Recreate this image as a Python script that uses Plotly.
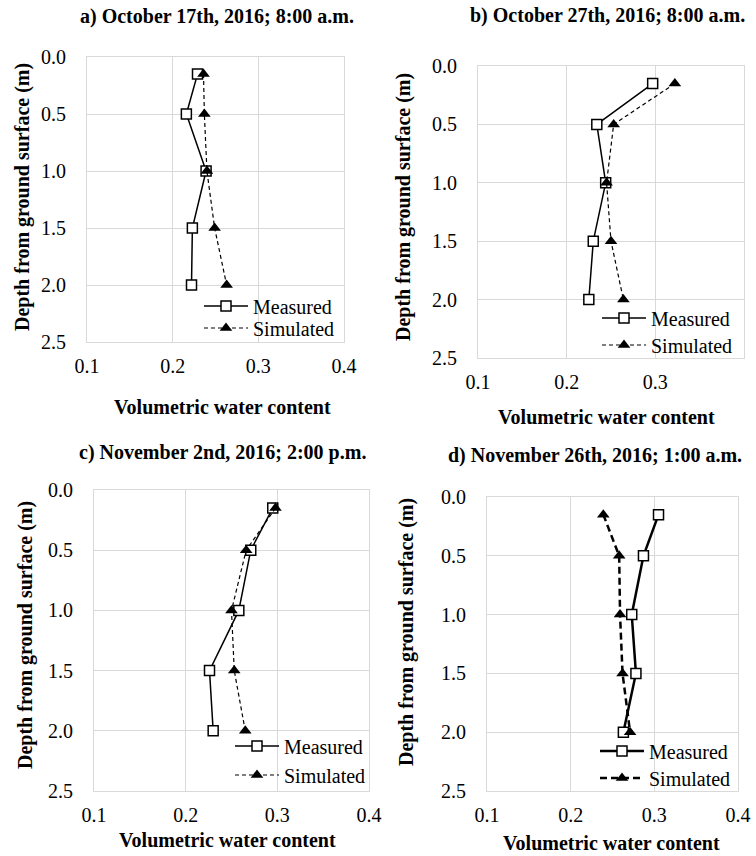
import plotly.graph_objects as go

# ---- data ----
depths = [0.15, 0.5, 1.0, 1.5, 2.0]
a_measured = [0.229, 0.216, 0.239, 0.223, 0.222]
a_simulated = [0.236, 0.237, 0.240, 0.249, 0.263]
b_measured = [0.297, 0.234, 0.244, 0.230, 0.225]
b_simulated = [0.322, 0.253, 0.245, 0.250, 0.264]
c_measured = [0.295, 0.271, 0.258, 0.226, 0.230]
c_simulated = [0.298, 0.266, 0.250, 0.253, 0.265]
d_measured = [0.305, 0.287, 0.273, 0.278, 0.263]
d_simulated = [0.239, 0.258, 0.259, 0.262, 0.271]

titles = ["a) October 17th, 2016; 8:00 a.m.",
          "b) October 27th, 2016; 8:00 a.m.",
          "c) November 2nd, 2016; 2:00 p.m.",
          "d) November 26th, 2016; 1:00 a.m."]
x_ticks = [0.1, 0.2, 0.3, 0.4]
y_ticks = [0.0, 0.5, 1.0, 1.5, 2.0, 2.5]
x_title = "Volumetric water content"
y_title = "Depth from ground surface (m)"

W, H = 756, 856
FONT = "Liberation Serif"

def px(x):
    return x / W

def py(y):
    return 1 - y / H

# panel geometry in pixels: (left, right, top, bottom)
boxes = [(87, 344, 57, 342), (478, 744, 66, 358), (94, 369, 490, 791), (487, 738, 497, 791)]
title_pos = [(217, 17), (607, 15), (222, 453), (595, 456)]
xtitle_pos = [(222, 407), (606, 417), (227, 840), (611, 843)]
ytitle_pos = [(22, 197), (403, 207), (25, 635), (406, 632)]
# legend rows: (left edge of legend, y of measured row, y of simulated row)
legend_pos = [(199, 306, 328), (597, 318, 345), (230, 746, 775), (595, 751, 778)]

series = [(a_measured, a_simulated), (b_measured, b_simulated),
          (c_measured, c_simulated), (d_measured, d_simulated)]

fig = go.Figure()
layout = dict(width=W, height=H, margin=dict(l=0, r=0, t=0, b=0, autoexpand=False),
              plot_bgcolor="white", paper_bgcolor="white", showlegend=True,
              font=dict(family=FONT, size=20, color="black"), annotations=[])

for i, (meas, sim) in enumerate(series):
    n = "" if i == 0 else str(i + 1)
    lw = 2.5 if i == 3 else 1.5
    dw = 2.5 if i == 3 else 1.2
    dash = "7px,4px" if i == 3 else "4px,3px"
    leg_m = "legend" + ("" if i == 0 else str(2 * i + 1))
    leg_s = "legend" + str(2 * i + 2)
    fig.add_trace(go.Scatter(x=meas, y=depths, mode="lines+markers", name="Measured",
                             xaxis="x" + n, yaxis="y" + n, legend=leg_m, showlegend=True,
                             line=dict(color="black", width=lw),
                             marker=dict(symbol="square", size=10, color="white",
                                         line=dict(color="black", width=1.5))))
    fig.add_trace(go.Scatter(x=sim, y=depths, mode="lines+markers", name="Simulated",
                             xaxis="x" + n, yaxis="y" + n, legend=leg_s, showlegend=True,
                             line=dict(color="black", width=dw, dash=dash),
                             marker=dict(symbol="triangle-up", size=11, color="black")))
    l, r, t, b = boxes[i]
    layout["xaxis" + n] = dict(domain=[px(l), px(r)], anchor="y" + n, range=[0.1, 0.4],
                               tickvals=x_ticks, tickformat=".1f", showgrid=True,
                               gridcolor="#d9d9d9", gridwidth=1, showline=True, mirror=True,
                               linecolor="#d9d9d9", linewidth=1, zeroline=False,
                               ticks="", ticklabelstandoff=6, automargin=False,
                               tickfont=dict(family=FONT, size=20, color="black"))
    layout["yaxis" + n] = dict(domain=[py(b), py(t)], anchor="x" + n, range=[2.5, 0],
                               tickvals=y_ticks, tickformat=".1f", showgrid=True,
                               gridcolor="#d9d9d9", gridwidth=1, showline=True, mirror=True,
                               linecolor="#d9d9d9", linewidth=1, zeroline=False,
                               ticks="", ticklabelstandoff=16, automargin=False,
                               tickfont=dict(family=FONT, size=20, color="black"))
    lx, ym, ys = legend_pos[i]
    for leg, yy in ((leg_m, ym), (leg_s, ys)):
        layout[leg] = dict(visible=True, x=px(lx), xanchor="left", y=py(yy),
                           yanchor="middle", bgcolor="rgba(0,0,0,0)",
                           font=dict(family=FONT, size=20, color="black"),
                           tracegroupgap=0, itemsizing="trace", itemwidth=44)
    tx, ty = title_pos[i]
    layout["annotations"].append(dict(text="<b>" + titles[i] + "</b>", x=px(tx), y=py(ty),
                                      xref="paper", yref="paper", showarrow=False,
                                      xanchor="center", yanchor="middle",
                                      font=dict(family=FONT, size=20, color="black")))
    tx, ty = xtitle_pos[i]
    layout["annotations"].append(dict(text="<b>" + x_title + "</b>", x=px(tx), y=py(ty),
                                      xref="paper", yref="paper", showarrow=False,
                                      xanchor="center", yanchor="middle",
                                      font=dict(family=FONT, size=20, color="black")))
    tx, ty = ytitle_pos[i]
    layout["annotations"].append(dict(text="<b>" + y_title + "</b>", x=px(tx), y=py(ty),
                                      xref="paper", yref="paper", showarrow=False,
                                      xanchor="center", yanchor="middle", textangle=-90,
                                      font=dict(family=FONT, size=20, color="black")))

fig.update_layout(**layout)
fig.write_html("out.html", config={"displayModeBar": False},
               post_script="document.body.style.margin='0';document.body.style.padding='0';")
